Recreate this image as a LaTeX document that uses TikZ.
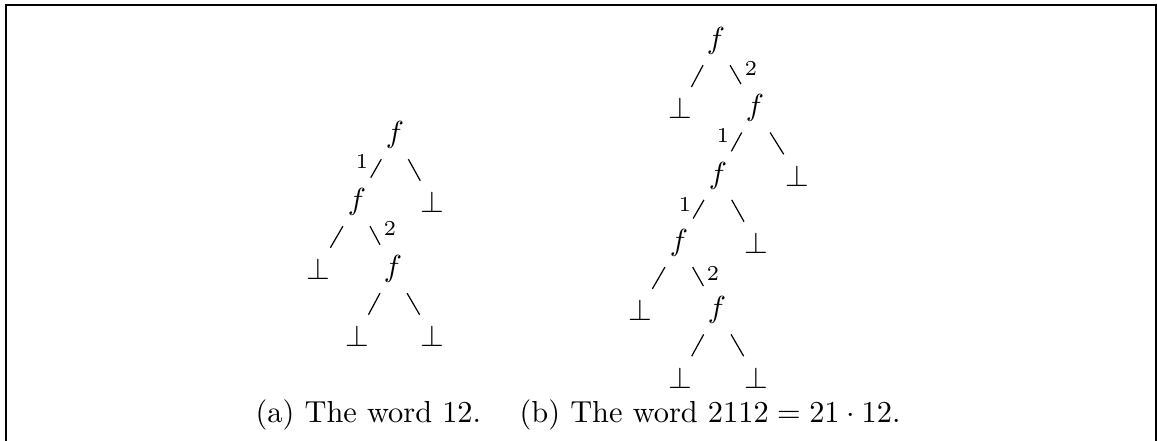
\documentclass[tikz,border=0pt]{standalone}
\begin{document}
\begin{tikzpicture}[x=0.329pt,y=-0.329pt,
  sym/.style={inner sep=3.33pt},
  lbl/.style={font=\scriptsize,inner sep=0pt},
  frm/.style={line width=0.65pt},
  captext/.style={anchor=base west,inner sep=0pt}]
\useasboundingbox (0,0) rectangle (1157,441);

% open frame (bottom edge lies below the picture)
\draw[frm] (6,445) -- (6,5) -- (1156,5) -- (1156,445);

% ---- tree (a): the word 12
\node[sym] (a0) at (395,135) {$f$};
\node[sym] (a1) at (357,202) {$f$};
\node[sym] (a2) at (432,202) {$\bot$};
\node[sym] (a3) at (318,269) {$\bot$};
\node[sym] (a4) at (393,269) {$f$};
\node[sym] (a5) at (357,336) {$\bot$};
\node[sym] (a6) at (432,336) {$\bot$};
\draw (a0) -- (a1);
\draw (a0) -- (a2);
\draw (a1) -- (a3);
\draw (a1) -- (a4);
\draw (a4) -- (a5);
\draw (a4) -- (a6);
\node[lbl] (la1) at (362,161) {1};
\node[lbl] (la2) at (390,228) {2};

% ---- tree (b): the word 2112
\node[sym] (b0)  at (716,41)    {$f$};
\node[sym] (b1)  at (680,108.3) {$\bot$};
\node[sym] (b2)  at (755,108.3) {$f$};
\node[sym] (b3)  at (718,175.6) {$f$};
\node[sym] (b4)  at (797,175.6) {$\bot$};
\node[sym] (b5)  at (679,242.9) {$f$};
\node[sym] (b6)  at (756,242.9) {$\bot$};
\node[sym] (b7)  at (640,310.2) {$\bot$};
\node[sym] (b8)  at (717,310.2) {$f$};
\node[sym] (b9)  at (680,377.5) {$\bot$};
\node[sym] (b10) at (756,377.5) {$\bot$};
\draw (b0) -- (b1);
\draw (b0) -- (b2);
\draw (b2) -- (b3);
\draw (b2) -- (b4);
\draw (b3) -- (b5);
\draw (b3) -- (b6);
\draw (b5) -- (b7);
\draw (b5) -- (b8);
\draw (b8) -- (b9);
\draw (b8) -- (b10);
\node[lbl] (lb1) at (751,68)  {2};
\node[lbl] (lb2) at (723,135) {1};
\node[lbl] (lb3) at (685,204) {1};
\node[lbl] (lb4) at (713,273) {2};

% ---- captions
\node[captext] (capa) at (255,423) {(a) The word 12.};
\node[captext] (capb) at (519,423) {(b) The word $2112 = 21\cdot 12$.};
\end{tikzpicture}
\end{document}
